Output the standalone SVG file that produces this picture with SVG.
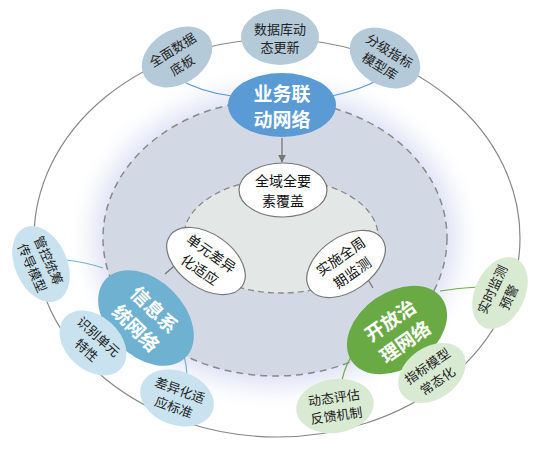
<svg xmlns="http://www.w3.org/2000/svg" width="551" height="451" viewBox="0 0 551 451">
<defs>
<style>
text{font-family:"Noto Sans CJK SC","Noto Sans",sans-serif;text-anchor:middle;dominant-baseline:central}
.outer text{font-size:13px;fill:#222}
.inner text{font-size:14px;fill:#111}
.main text{font-size:19px;fill:#fff;font-weight:bold}
.top{fill:#b5cad9}
.left{fill:#c8e2ef}
.right{fill:#d9ead2}
.inn{fill:#fff;stroke:#777;stroke-width:1.2}
.arr{stroke:#777;stroke-width:1.3;fill:none;marker-end:url(#ah)}
</style>
<marker id="ah" viewBox="0 0 10 10" refX="9" refY="5" markerWidth="6" markerHeight="6" orient="auto"><path d="M0,0 L10,5 L0,10 z" fill="#777"/></marker>
<filter id="blur" x="-30%" y="-30%" width="160%" height="160%"><feGaussianBlur stdDeviation="12"/></filter>
</defs>
<rect width="551" height="451" fill="#fff"/>
<g id="rings">
<ellipse cx="277" cy="238" rx="243" ry="199" fill="none" stroke="#888" stroke-width="1.2"/>
<ellipse cx="275" cy="238" rx="182" ry="148" fill="#dbe0f4" filter="url(#blur)"/>
<ellipse cx="275" cy="238" rx="172" ry="138" fill="#d3d9e4" stroke="#8a8a8a" stroke-width="1.5" stroke-dasharray="7,5"/>
<ellipse cx="281" cy="236" rx="97" ry="57" fill="#e3e8e6" stroke="#8a8a8a" stroke-width="1.3" stroke-dasharray="6,4"/>
</g>
<g id="connectors">
<path d="M177,78 Q200,92 232,96" stroke="#5b9bd5" stroke-width="1.2" fill="none"/>
<path d="M332,96 Q360,90 380,79" stroke="#5b9bd5" stroke-width="1.2" fill="none"/>
<path d="M66,260 Q85,262 103,268" stroke="#6fb1d0" stroke-width="1.2" fill="none"/>
<path d="M178,340 Q186,355 187,375" stroke="#6fb1d0" stroke-width="1.2" fill="none"/>
<path d="M440,291 Q458,288 478,287" stroke="#70ad47" stroke-width="1.2" fill="none"/>
<path d="M356,350 Q346,362 342,380" stroke="#70ad47" stroke-width="1.2" fill="none"/>
<path class="arr" d="M282,138 L282,162"/>
<path class="arr" d="M165,274 L181,260"/>
<path class="arr" d="M373,288 L363,271"/>
</g>
<g id="n-yewu" class="main"><ellipse cx="282" cy="105" rx="54" ry="32" fill="#5b9bd5"/><text x="282" y="92">业务联</text><text x="282" y="118">动网络</text></g>
<g id="n-xinxi" class="main" transform="translate(146,318) rotate(45)"><ellipse rx="56" ry="38" fill="#6fb1d0"/><text y="-13">信息系</text><text y="13">统网络</text></g>
<g id="n-kaifang" class="main" transform="translate(397,330) rotate(-35)"><ellipse rx="55" ry="38" fill="#6aaa45"/><text y="-13">开放治</text><text y="13">理网络</text></g>
<g id="n-quanyu" class="inner"><ellipse class="inn" cx="283" cy="190" rx="44" ry="27"/><text x="283" y="180">全域全要</text><text x="283" y="200">素覆盖</text></g>
<g id="n-danyuan" class="inner" transform="translate(206,261) rotate(35)"><ellipse class="inn" rx="44" ry="27"/><text y="-10">单元差异</text><text y="10">化适应</text></g>
<g id="n-shishi" class="inner" transform="translate(346,264) rotate(-35)"><ellipse class="inn" rx="44" ry="27"/><text y="-10">实施全周</text><text y="10">期监测</text></g>
<g id="n-quanmian" class="outer" transform="translate(177,57) rotate(-32)"><ellipse class="top" rx="38" ry="27"/><text y="-9">全面数据</text><text y="9">底板</text></g>
<g id="n-shujuku" class="outer" transform="translate(280,37)"><ellipse class="top" rx="39" ry="28"/><text y="-9">数据库动</text><text y="9">态更新</text></g>
<g id="n-fenji" class="outer" transform="translate(385,58) rotate(32)"><ellipse class="top" rx="38" ry="27"/><text y="-9">分级指标</text><text y="9">模型库</text></g>
<g id="n-guankong" class="outer" transform="translate(41,264) rotate(66)"><ellipse class="left" rx="40" ry="26"/><text y="-9">管控统筹</text><text y="9">传导模型</text></g>
<g id="n-shibie" class="outer" transform="translate(93,343) rotate(42)"><ellipse class="left" rx="38" ry="27"/><text y="-9">识别单元</text><text y="9">特性</text></g>
<g id="n-chayi" class="outer" transform="translate(177,398) rotate(20)"><ellipse class="left" rx="38" ry="27"/><text y="-9">差异化适</text><text y="9">应标准</text></g>
<g id="n-shishijiance" class="outer" transform="translate(500,293) rotate(-65)"><ellipse class="right" rx="38" ry="25"/><text y="-9">实时监测</text><text y="9">预警</text></g>
<g id="n-zhibiao" class="outer" transform="translate(432,373) rotate(-35)"><ellipse class="right" rx="37" ry="26"/><text y="-9">指标模型</text><text y="9">常态化</text></g>
<g id="n-dongtai" class="outer" transform="translate(335,406) rotate(-8)"><ellipse class="right" rx="39" ry="27"/><text y="-9">动态评估</text><text y="9">反馈机制</text></g>
</svg>
